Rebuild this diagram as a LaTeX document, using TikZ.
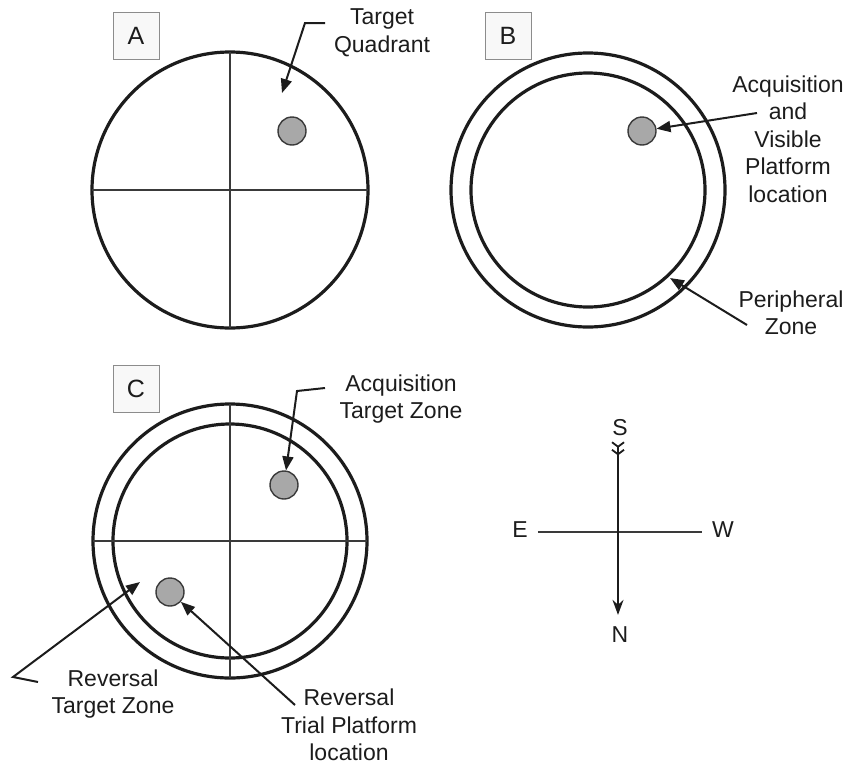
\documentclass[tikz,border=0pt]{standalone}
\usepackage{fontspec}
\setmainfont{Liberation Sans}
\usetikzlibrary{arrows.meta,positioning}
\definecolor{cInk} {HTML}{1C1C1C}
\definecolor{cLine}{HTML}{3A3A3A}
\definecolor{cPlat}{HTML}{A8A8A8}
\definecolor{cBox} {HTML}{F8F8F8}
\tikzset{
  pool/.style  ={draw=cInk,line width=3.2pt},
  quad/.style  ={draw=cLine,line width=1.4pt},
  plat/.style  ={circle,draw=cLine,fill=cPlat,line width=1.4pt,
                 minimum size=28pt,inner sep=0pt},
  panel/.style ={draw=black!45,fill=cBox,line width=0.8pt,minimum width=46pt,
                 minimum height=47pt,inner sep=0pt,text=cInk,
                 font=\fontsize{25}{25}\selectfont},
  lbl/.style   ={align=center,text=cInk,inner sep=0pt,
                 font=\fontsize{23}{27.5}\selectfont},
  ptr/.style   ={-{Triangle[length=14pt,width=11pt]},draw=cInk,line width=2pt},
  axis/.style  ={draw=cLine,line width=1.4pt},
  barb/.tip    ={Straight Barb[reversed,length=4.5pt,width=12pt,line width=1.8pt,sep=1pt]},
  needle/.style={{barb[]barb[]}-{Stealth[length=15pt,width=11pt]},
                 draw=cInk,line width=2pt},
}

\begin{document}
\begin{tikzpicture}[x=1pt,y=-1pt]
\useasboundingbox (0,0) rectangle (851,766);

% ---- A: quadrants -------------------------------------------------------
\draw[pool] (230,190) circle[radius=138];
\draw[quad] (230,52) -- (230,328);
\draw[quad] (92,190) -- (368,190);
\node[panel] (boxA) at (136,35.5) {A};
\node[plat] (platA) at (292,131) {};
\node[lbl] (tqLbl) at (382,33) {Target\\Quadrant};
\coordinate (tqFrom) at (325,23);
\coordinate (tqTip) at (282,93);
\draw[ptr] (tqFrom) -- ++(-20,0) -- (tqTip);

% ---- B: peripheral zone -------------------------------------------------
\draw[pool] (588,190) circle[radius=137];
\draw[pool] (588,190) circle[radius=117];
\node[panel] (boxB) at (508,36) {B};
\node[plat] (platB) at (642,131) {};
\node[lbl] (acqLbl) at (788,139) {Acquisition\\and\\Visible\\Platform\\location};
\coordinate (acqFrom) at (757,113);
\draw[ptr] (acqFrom) -- (platB);
\node[lbl] (perLbl) at (791,313) {Peripheral\\Zone};
\coordinate (perFrom) at (747,325);
\coordinate (perTip) at (670,278);
\draw[ptr] (perFrom) -- (perTip);

% ---- C: target zones ----------------------------------------------------
\draw[pool] (230,541) circle[radius=137];
\draw[pool] (230,541) circle[radius=117];
\draw[quad] (230,404) -- (230,678);
\draw[quad] (93,541) -- (367,541);
\node[panel] (boxC) at (136,389) {C};
\node[plat] (platC) at (284,485) {};
\node[plat] (platR) at (170,592) {};
\node[lbl] (atzLbl) at (401,399) {Acquisition\\Target Zone};
\coordinate (atzFrom) at (325,388);
\draw[ptr] (atzFrom) -- (297,391) -- (platC);
\node[lbl] (rtzLbl) at (113,694) {Reversal\\Target Zone};
\coordinate (rtzFrom) at (38,682);
\coordinate (rtzTip) at (140,582);
\draw[ptr] (rtzFrom) -- (13,677) -- (rtzTip);
\node[lbl] (rtpLbl) at (349,725) {Reversal\\Trial Platform\\location};
\coordinate (rtpFrom) at (295,705);
\draw[ptr] (rtpFrom) -- (platR);

% ---- compass ------------------------------------------------------------
\node[lbl] (sLbl) at (620,428) {S};
\node[lbl] (nLbl) at (620,635) {N};
\node[lbl] (eLbl) at (520,530) {E};
\node[lbl] (wLbl) at (723,530) {W};
\draw[axis] ([xshift=10pt,yshift=-2pt]eLbl.east) -- ([xshift=-10pt,yshift=-2pt]wLbl.west);
\draw[needle] ([xshift=-2pt,yshift=-4pt]sLbl.south) -- ([xshift=-2pt,yshift=12pt]nLbl.north);
\end{tikzpicture}
\end{document}
